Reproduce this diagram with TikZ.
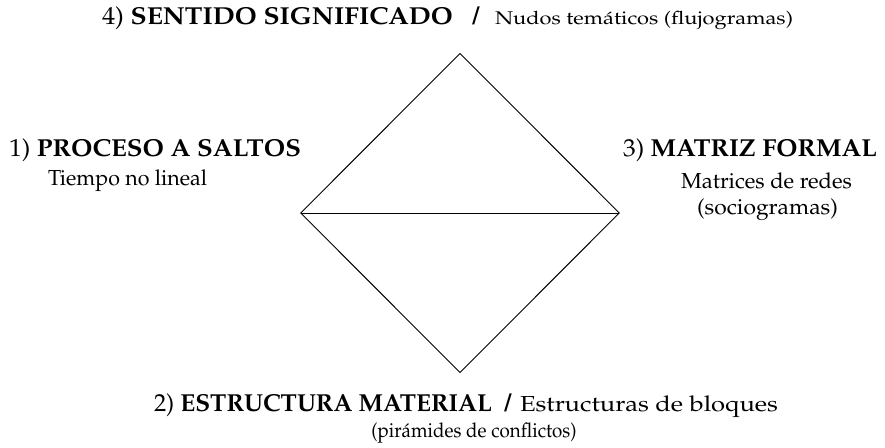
\documentclass[tikz,border=0pt]{standalone}
\usepackage[T1]{fontenc}
\usepackage{mathpazo}
\newcommand\wideto[2]{\resizebox{#1}{\height}{#2}}
\begin{document}
\begin{tikzpicture}[x=0.75pt,y=-0.75pt,
  lbl/.style={inner sep=0pt,outer sep=0pt},
  big/.style={font=\fontsize{18.4}{21}\selectfont},
  small/.style={font=\fontsize{16.3}{19}\selectfont},
  mid/.style={font=\fontsize{15.2}{18}\selectfont},
  tiny/.style={font=\fontsize{13.8}{16}\selectfont},
  edge/.style={line width=0.7pt,line join=miter}]
\useasboundingbox (0,0) rectangle (885,448);
\coordinate (T) at (460,53.5);
\coordinate (L) at (300.7,213);
\coordinate (R) at (619.3,213);
\coordinate (B) at (460,372.5);
\draw[edge] (T) -- (R) -- (B) -- (L) -- cycle;
\draw[edge] (L) -- (R);
% top
\node[lbl,big,anchor=base west] (t1) at (102,25) {\wideto{263.25pt}{4) \textbf{SENTIDO SIGNIFICADO}}};
\node[lbl,big,anchor=base] (t2) at (476,25) {\textbf{/}};
\node[lbl,tiny,anchor=base west] (t3) at (495,25) {\wideto{223.5pt}{Nudos tem\'aticos (flujogramas)}};
% left
\node[lbl,big,anchor=base west] (p1) at (9,156.5) {\wideto{219pt}{1) \textbf{PROCESO A SALTOS}}};
\node[lbl,small,anchor=base west] (p1b) at (48,186) {\wideto{119.25pt}{Tiempo no lineal}};
% right
\node[lbl,big,anchor=base west] (p3) at (623,156.5) {\wideto{190.5pt}{3) \textbf{MATRIZ FORMAL}}};
\node[lbl,small,anchor=base west] (p3b) at (681,189) {\wideto{128.25pt}{Matrices de redes}};
\node[lbl,small,anchor=base west] (p3c) at (697,215) {\wideto{105.75pt}{(sociogramas)}};
% bottom
\node[lbl,big,anchor=base west] (p2) at (154,412) {\wideto{253.5pt}{2) \textbf{ESTRUCTURA MATERIAL}}};
\node[lbl,big,anchor=base] (p2s) at (508,412) {\textbf{/}};
\node[lbl,small,anchor=base west] (p2b) at (520,412) {\wideto{193.5pt}{Estructuras de bloques}};
\node[lbl,mid,anchor=base] (p2c) at (474,438) {\wideto{154pt}{(pir\'amides de conflictos)}};
\end{tikzpicture}
\end{document}
